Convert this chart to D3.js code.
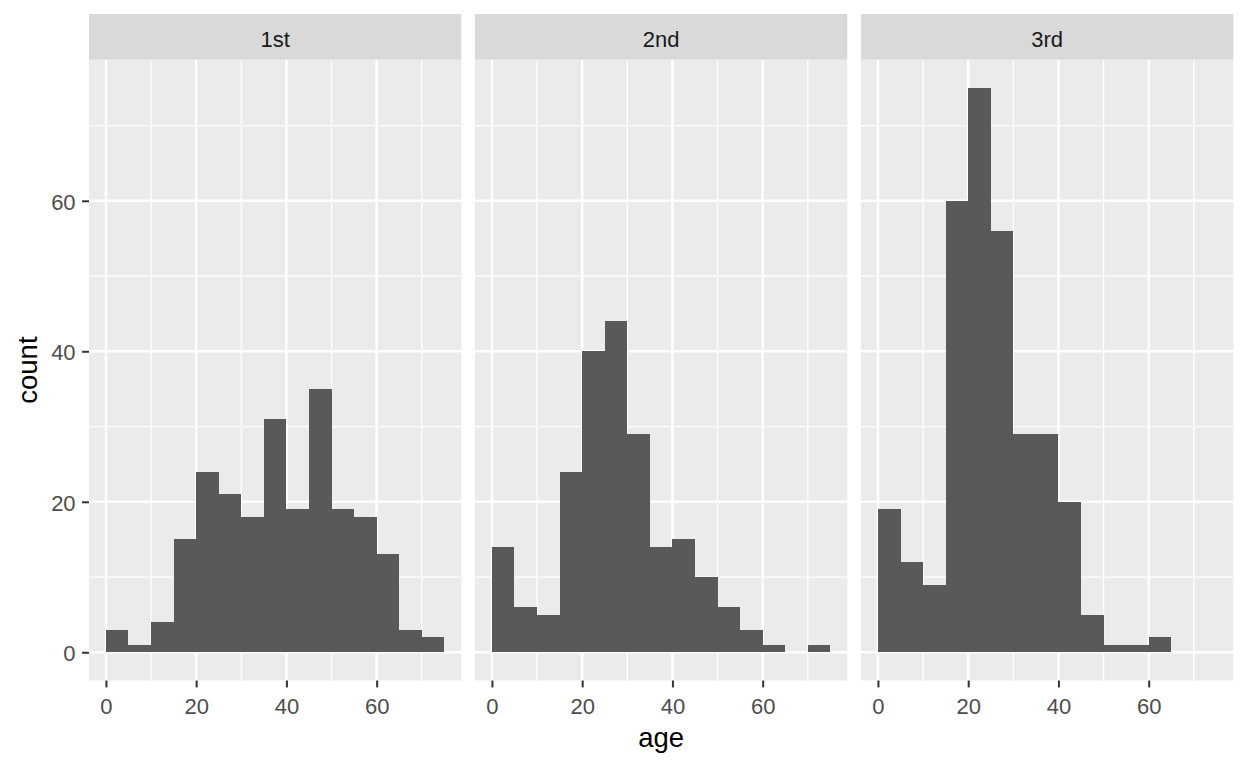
<!DOCTYPE html>
<html>
<head>
<meta charset="utf-8">
<script src="https://cdn.jsdelivr.net/npm/d3@7"></script>
<style>
  html, body { margin: 0; padding: 0; background: #fff; }
  svg { display: block; font-family: "Liberation Sans", Arial, sans-serif; }
</style>
</head>
<body>
<svg id="chart" width="1248" height="768"></svg>
<script>
// ---- data ----
const classes = ["1st", "2nd", "3rd"];
const binStarts = [0, 5, 10, 15, 20, 25, 30, 35, 40, 45, 50, 55, 60, 65, 70];
const binWidth = 5;
const counts1st = [3, 1, 4, 15, 24, 21, 18, 31, 19, 35, 19, 18, 13, 3, 2];
const counts2nd = [14, 6, 5, 24, 40, 44, 29, 14, 15, 10, 6, 3, 1, 0, 1];
const counts3rd = [19, 12, 9, 60, 75, 56, 29, 29, 20, 5, 1, 1, 2, 0, 0];
const xTicks = [0, 20, 40, 60];
const xMinor = [10, 30, 50, 70];
const yTicks = [0, 20, 40, 60];
const yMinor = [10, 30, 50, 70];
const seriesByClass = [counts1st, counts2nd, counts3rd];

// ---- layout ----
const svg = d3.select("#chart");
const panelLeft = 89, panelRight = 1233.3, gap = 13.75;
const panelW = (panelRight - panelLeft - 2 * gap) / 3;
const stripTop = 14, stripBottom = 59.7, panelBottom = 680.5;

const xMax = 75, yMax = d3.max(counts3rd.concat(counts1st, counts2nd));
const x = d3.scaleLinear().domain([-xMax * 0.05, xMax * 1.05]).range([0, panelW]);
const y = d3.scaleLinear().domain([-yMax * 0.05, yMax * 1.05]).range([panelBottom, stripBottom]);

classes.forEach((cls, i) => {
  const x0 = panelLeft + i * (panelW + gap);
  const g = svg.append("g").attr("transform", `translate(${x0},0)`);

  // panel background
  g.append("rect").attr("x", 0).attr("y", stripBottom).attr("width", panelW)
    .attr("height", panelBottom - stripBottom).attr("fill", "#EBEBEB");

  // minor grid
  yMinor.forEach(v => g.append("line").attr("x1", 0).attr("x2", panelW)
    .attr("y1", y(v)).attr("y2", y(v)).attr("stroke", "#fff").attr("stroke-width", 1.3));
  xMinor.forEach(v => g.append("line").attr("y1", stripBottom).attr("y2", panelBottom)
    .attr("x1", x(v)).attr("x2", x(v)).attr("stroke", "#fff").attr("stroke-width", 1.3));
  // major grid
  yTicks.forEach(v => g.append("line").attr("x1", 0).attr("x2", panelW)
    .attr("y1", y(v)).attr("y2", y(v)).attr("stroke", "#fff").attr("stroke-width", 2.5));
  xTicks.forEach(v => g.append("line").attr("y1", stripBottom).attr("y2", panelBottom)
    .attr("x1", x(v)).attr("x2", x(v)).attr("stroke", "#fff").attr("stroke-width", 2.5));

  // bars
  const data = binStarts.map((b, j) => ({ b, c: seriesByClass[i][j] }));
  g.selectAll("rect.bar").data(data).enter().append("rect")
    .attr("class", "bar")
    .attr("x", d => x(d.b))
    .attr("width", d => x(d.b + binWidth) - x(d.b))
    .attr("y", d => y(d.c))
    .attr("height", d => y(0) - y(d.c))
    .attr("fill", "#595959")
    .attr("shape-rendering", "crispEdges");

  // strip
  g.append("rect").attr("x", 0).attr("y", stripTop).attr("width", panelW)
    .attr("height", stripBottom - stripTop).attr("fill", "#D9D9D9");
  g.append("text").attr("x", panelW / 2).attr("y", 46.5)
    .attr("text-anchor", "middle")
    .attr("font-size", 22).attr("fill", "#1A1A1A").text(cls);

  // x axis
  const xa = g.append("g").attr("transform", `translate(0,${panelBottom})`)
    .call(d3.axisBottom(x).tickValues(xTicks).tickSize(6.9).tickPadding(11).tickFormat(d3.format("d")));
  xa.select(".domain").remove();
  xa.selectAll(".tick line").attr("stroke", "#333333").attr("stroke-width", 2);
  xa.selectAll(".tick text").attr("font-size", 22).attr("fill", "#4D4D4D")
    .attr("font-family", "Liberation Sans, Arial, sans-serif");
});

// y axis (left panel only)
const ya = svg.append("g").attr("transform", `translate(${panelLeft},0)`)
  .call(d3.axisLeft(y).tickValues(yTicks).tickSize(6.9).tickPadding(6.5).tickFormat(d3.format("d")));
ya.select(".domain").remove();
ya.selectAll(".tick line").attr("stroke", "#333333").attr("stroke-width", 2);
ya.selectAll(".tick text").attr("font-size", 22).attr("fill", "#4D4D4D").attr("dy", "0.38em")
  .attr("font-family", "Liberation Sans, Arial, sans-serif");

// axis titles
svg.append("text").attr("x", (panelLeft + panelRight) / 2).attr("y", 747)
  .attr("text-anchor", "middle").attr("font-size", 27.5).attr("fill", "#000").text("age");
svg.append("text").attr("transform", `translate(37,${(stripBottom + panelBottom) / 2}) rotate(-90)`)
  .attr("text-anchor", "middle").attr("font-size", 27.5).attr("fill", "#000").text("count");
</script>
</body>
</html>
